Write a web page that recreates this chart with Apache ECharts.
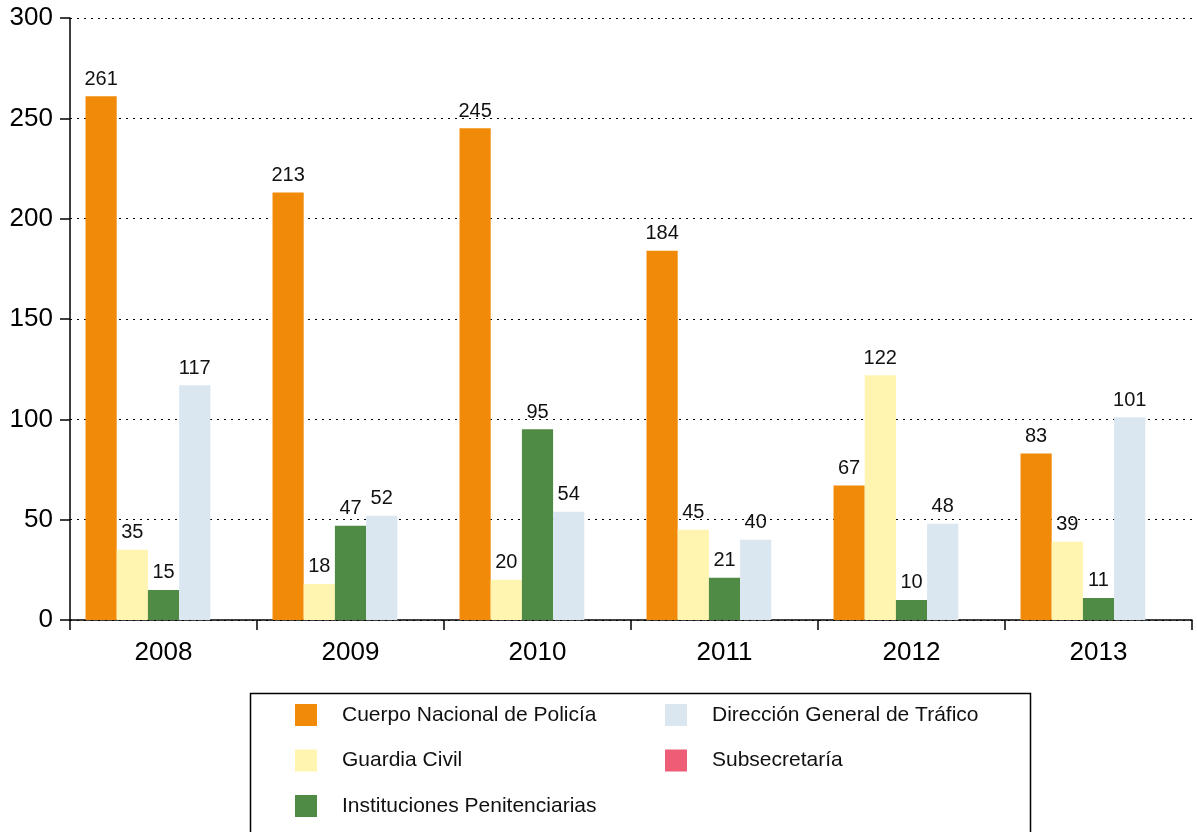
<!DOCTYPE html>
<html>
<head>
<meta charset="utf-8">
<script src="https://cdn.jsdelivr.net/npm/echarts@6/dist/echarts.min.js"></script>
<style>html,body{margin:0;padding:0;background:#fff}#c{width:1197px;height:832px}</style>
</head>
<body>
<div id="c"></div>
<script>
const years = ['2008','2009','2010','2011','2012','2013'];
const seriesNames = ['Cuerpo Nacional de Policía','Guardia Civil','Instituciones Penitenciarias','Dirección General de Tráfico','Subsecretaría'];
const cnp = [261, 213, 245, 184, 67, 83];
const guardiaCivil = [35, 18, 20, 45, 122, 39];
const instPenit = [15, 47, 95, 21, 10, 11];
const dgt = [117, 52, 54, 40, 48, 101];
const subsecretaria = [null, null, null, null, null, null];
const colors = ['#F28A09','#FFF4B0','#4F8B44','#DBE7F0','#EE5D75'];
const valuesList = [cnp, guardiaCivil, instPenit, dgt, subsecretaria];

const FONT = '"Liberation Sans", Arial, Helvetica, sans-serif';
const chart = echarts.init(document.getElementById('c'));
const legendCommon = {
  orient: 'vertical', padding: 0, itemWidth: 22, itemHeight: 22, itemGap: 23.5,
  icon: 'rect', selectedMode: false,
  textStyle: { fontSize: 21, color: '#111', fontFamily: FONT, padding: [0,0,0,20] }
};
chart.setOption({
  animation: false,
  textStyle: { fontFamily: FONT },
  grid: { left: 70, right: 5, top: 18, bottom: 212, containLabel: false },
  legend: [
    Object.assign({ left: 295, top: 704, data: seriesNames.slice(0,3) }, legendCommon),
    Object.assign({ left: 665, top: 704, data: seriesNames.slice(3) }, legendCommon)
  ],
  graphic: [{
    type: 'rect', left: 248, top: 691, z: -1,
    shape: { width: 780, height: 200 },
    style: { fill: 'none', stroke: '#000', lineWidth: 1.5 }
  }],
  xAxis: {
    type: 'category', data: years,
    axisLine: { show: true, lineStyle: { color: '#000', width: 1.5 } },
    axisTick: { show: true, length: 10, lineStyle: { color: '#000', width: 1.5 } },
    axisLabel: { fontSize: 26, color: '#000', margin: 20, fontFamily: FONT }
  },
  yAxis: {
    type: 'value', min: 0, max: 300, interval: 50,
    axisLine: { show: true, lineStyle: { color: '#000', width: 1.5 } },
    axisTick: { show: true, length: 10, lineStyle: { color: '#000', width: 1.5 } },
    axisLabel: { fontSize: 26, color: '#000', margin: 17, fontFamily: FONT },
    splitLine: { show: true, lineStyle: { color: '#000', width: 1, type: [2,5] } }
  },
  series: seriesNames.map((n, i) => ({
    name: n, type: 'bar', data: valuesList[i],
    barGap: '0%', barCategoryGap: '16.6%',
    itemStyle: { color: colors[i] },
    label: { show: true, position: 'top', distance: 7, fontSize: 20, color: '#111', fontFamily: FONT }
  }))
});
</script>
</body>
</html>
